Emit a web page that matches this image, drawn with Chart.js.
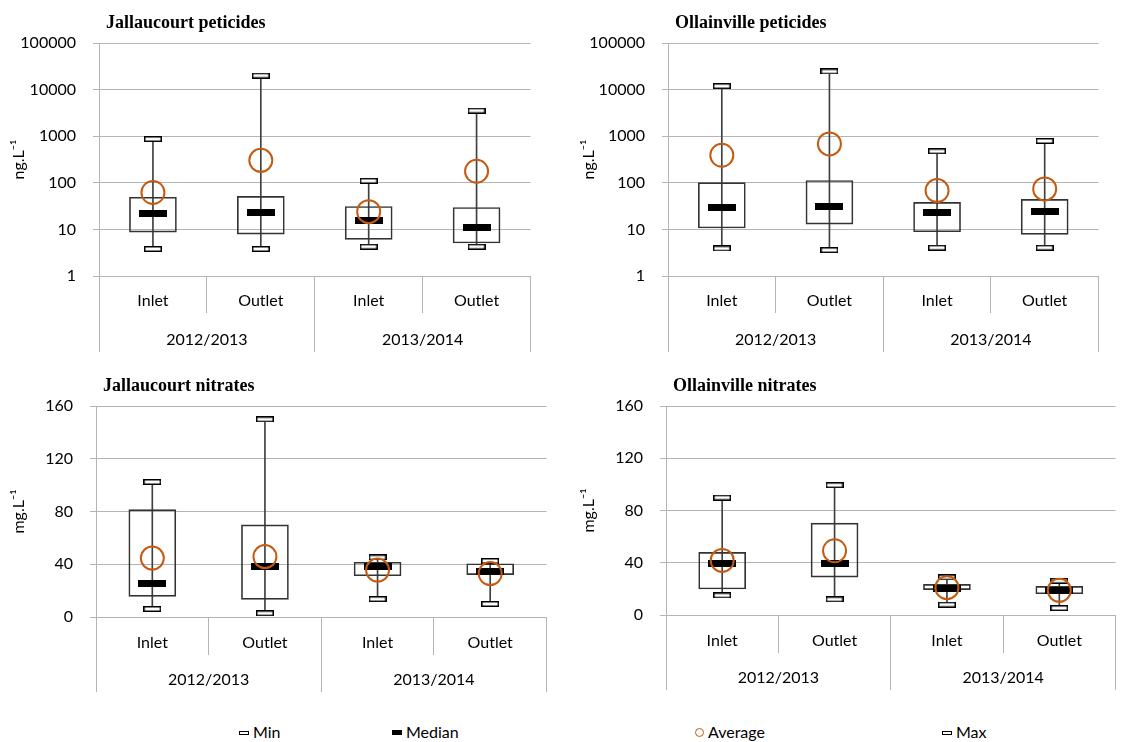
<!DOCTYPE html>
<html>
<head>
<meta charset="utf-8">
<script src="https://cdn.jsdelivr.net/npm/chart.js@4.4.1/dist/chart.umd.min.js"></script>
<style>
  body { margin: 0; background: #fff; }
  #page { position: relative; width: 1129px; height: 742px; overflow: hidden; font-family: Lato, "Open Sans", sans-serif; }
  .box { position: absolute; }
  .title { position: absolute; font-family: "Liberation Serif", serif; font-weight: bold; font-size: 18px; line-height: 22px; color: #000; white-space: nowrap; }
  .legend { position: absolute; top: 721px; height: 22px; line-height: 22px; font-size: 16px; color: #000; white-space: nowrap; }
  .mk { display: inline-block; vertical-align: middle; margin-right: 4px; position: relative; top: -1px; }
  .mk-minmax { width: 8px; height: 2px; border: 1px solid #000; background: #fff; }
  .mk-median { width: 10px; height: 5px; background: #000; }
  .mk-avg { width: 7px; height: 7px; border: 1.5px solid #C55A11; border-radius: 50%; }
</style>
</head>
<body>
<div id="page">
  <div class="box" style="left:0px;top:0px;width:544px;height:360px;"><canvas id="jp"></canvas></div>
  <div class="box" style="left:560px;top:0px;width:552px;height:360px;"><canvas id="op"></canvas></div>
  <div class="box" style="left:0px;top:370px;width:560px;height:330px;"><canvas id="jn"></canvas></div>
  <div class="box" style="left:560px;top:370px;width:569px;height:330px;"><canvas id="on"></canvas></div>

  <div class="title" style="left:106px;top:11px;">Jallaucourt peticides</div>
  <div class="title" style="left:675px;top:11px;">Ollainville peticides</div>
  <div class="title" style="left:103px;top:374px;">Jallaucourt nitrates</div>
  <div class="title" style="left:673px;top:374px;">Ollainville nitrates</div>

  <div class="legend" style="left:239px;"><span class="mk mk-minmax"></span>Min</div>
  <div class="legend" style="left:392px;"><span class="mk mk-median"></span>Median</div>
  <div class="legend" style="left:695px;"><span class="mk mk-avg"></span>Average</div>
  <div class="legend" style="left:942px;"><span class="mk mk-minmax"></span>Max</div>
</div>

<script>
// categories and tick labels
var categories = ["Inlet", "Outlet", "Inlet", "Outlet"];
var years = ["2012/2013", "2013/2014"];
var logTicks = [1, 10, 100, 1000, 10000, 100000];

// Jallaucourt peticides (ng/L)
var jpMin = [3.8, 3.8, 4.25, 4.25];
var jpQ1 = [8.75, 7.9, 6.1, 5.1];
var jpMedian = [21.6, 22.7, 15.5, 11];
var jpQ3 = [49, 51, 31, 29.5];
var jpMax = [870, 20000, 110, 3530];
var jpAverage = [62, 303, 24, 177];

// Ollainville peticides (ng/L)
var opMin = [3.9, 3.6, 4.05, 4.05];
var opQ1 = [10.7, 13, 8.9, 7.8];
var opMedian = [29, 30.5, 23.5, 24.6];
var opQ3 = [101, 112, 38, 44];
var opMax = [11900, 24500, 475, 790];
var opAverage = [390, 682, 68, 74];

// Jallaucourt nitrates (mg/L)
var jnMin = [6.1, 2.8, 13.6, 9.9];
var jnQ1 = [15.7, 13.4, 31.3, 32.1];
var jnMedian = [25.3, 38.2, 38.2, 34.6];
var jnQ3 = [81.4, 69.8, 41.5, 40.4];
var jnMax = [102.4, 149.9, 45.2, 42.5];
var jnAverage = [44.7, 45.8, 35.6, 32.9];

// Ollainville nitrates (mg/L)
var onMin = [15, 12, 7.9, 5.3];
var onQ1 = [19.9, 29, 19.4, 16.3];
var onMedian = [39.2, 39.7, 20.4, 19.1];
var onQ3 = [47.9, 70.3, 23.4, 21.9];
var onMax = [89.9, 99.4, 28.8, 26.2];
var onAverage = [41.8, 49.2, 20.9, 18.9];

var gridColor = "#b4b4b4";
var avgColor = "#C55A11";
var none = "rgba(0,0,0,0)";
var fontFamily = "Lato, 'Open Sans', sans-serif";

function markerCanvas(w, h, fill, stroke) {
    var c = document.createElement("canvas");
    c.width = w;
    c.height = h;
    var ctx = c.getContext("2d");
    ctx.fillStyle = fill;
    ctx.fillRect(0, 0, w, h);
    if (stroke) {
        ctx.strokeStyle = stroke;
        ctx.lineWidth = 1.5;
        ctx.strokeRect(0.75, 0.75, w - 1.5, h - 1.5);
    }
    return c;
}

var minMaxMark = markerCanvas(18, 6, "#fff", "#000");
var medianMark = markerCanvas(28, 7, "#000");

function pairs(a, b) {
    return a.map(function (v, i) {
        return [v, b[i]];
    });
}

function hideLast(n) {
    return function (ctx) {
        return ctx.index === n ? none : gridColor;
    };
}

function makeChart(id, box, s, yScale, yTitle) {
    var y = Object.assign(
        {
            grid: { color: gridColor, tickLength: 6 },
            border: { color: gridColor },
            title: {
                display: true,
                text: yTitle,
                color: "#000",
                font: { family: fontFamily, size: 16 },
                padding: { top: box.titlePad, bottom: 0 },
            },
            afterFit: function (sc) {
                sc.width = box.yWidth;
            },
        },
        yScale
    );

    new Chart(document.getElementById(id), {
        type: "bar",
        data: {
            labels: categories,
            datasets: [
                {
                    type: "line",
                    label: "Average",
                    data: s.average,
                    showLine: false,
                    pointStyle: "circle",
                    pointRadius: 11.5,
                    pointBorderWidth: 2,
                    pointBorderColor: avgColor,
                    pointBackgroundColor: none,
                    order: 1,
                },
                { type: "line", label: "Max", data: s.max, showLine: false, pointStyle: minMaxMark, order: 2 },
                { type: "line", label: "Min", data: s.min, showLine: false, pointStyle: minMaxMark, order: 3 },
                { type: "line", label: "Median", data: s.median, showLine: false, pointStyle: medianMark, order: 4 },
                {
                    label: "Box",
                    data: pairs(s.q1, s.q3),
                    backgroundColor: none,
                    borderColor: "#333",
                    borderWidth: 1,
                    borderSkipped: false,
                    barThickness: 47,
                    grouped: false,
                    order: 5,
                },
                {
                    label: "Range",
                    data: pairs(s.min, s.max),
                    backgroundColor: "#404040",
                    barThickness: 1,
                    grouped: false,
                    order: 6,
                },
            ],
        },
        options: {
            responsive: true,
            maintainAspectRatio: false,
            animation: false,
            layout: { padding: { left: 0, right: box.padRight, top: box.padTop, bottom: box.padBottom } },
            plugins: { legend: { display: false }, tooltip: { enabled: false } },
            scales: {
                x: {
                    offset: true,
                    weight: 0,
                    grid: { offset: true, drawOnChartArea: false, tickLength: box.tick1, color: hideLast(4) },
                    border: { color: gridColor },
                    ticks: { padding: -22, color: "#000", maxRotation: 0, autoSkip: false, font: { family: fontFamily, size: 16 } },
                    afterFit: function (sc) {
                        sc.height = box.tick1;
                    },
                },
                x2: {
                    type: "category",
                    labels: years,
                    position: "bottom",
                    offset: true,
                    weight: 1,
                    grid: { offset: true, drawOnChartArea: false, tickLength: box.tick2, color: hideLast(2) },
                    border: { display: false },
                    ticks: { padding: -22, color: "#000", maxRotation: 0, autoSkip: false, font: { family: fontFamily, size: 16 } },
                    afterFit: function (sc) {
                        sc.height = box.tick2;
                    },
                },
                y: y,
            },
        },
    });
}

var logAxis = {
    type: "logarithmic",
    min: 1,
    max: 100000,
    afterBuildTicks: function (sc) {
        sc.ticks = logTicks.map(function (v) {
            return { value: v };
        });
    },
    ticks: {
        color: "#000",
        padding: 17,
        font: { family: fontFamily, size: 16 },
        callback: function (v) {
            return String(v);
        },
    },
};

var linAxis = {
    type: "linear",
    min: 0,
    max: 160,
    ticks: { color: "#000", padding: 17, stepSize: 40, font: { family: fontFamily, size: 16 } },
};

makeChart("jp", { yWidth: 99, padRight: 2, padTop: 43, padBottom: 8, tick1: 37, tick2: 39, titlePad: 9 },
    { min: jpMin, q1: jpQ1, median: jpMedian, q3: jpQ3, max: jpMax, average: jpAverage }, logAxis, "ng.L\u207B\u00B9");
makeChart("op", { yWidth: 108, padRight: 2, padTop: 43, padBottom: 8, tick1: 37, tick2: 39, titlePad: 19 },
    { min: opMin, q1: opQ1, median: opMedian, q3: opQ3, max: opMax, average: opAverage }, logAxis, "ng.L\u207B\u00B9");
makeChart("jn", { yWidth: 96, padRight: 4, padTop: 36, padBottom: 8, tick1: 38, tick2: 37, titlePad: 9 },
    { min: jnMin, q1: jnQ1, median: jnMedian, q3: jnQ3, max: jnMax, average: jnAverage }, linAxis, "mg.L\u207B\u00B9");
makeChart("on", { yWidth: 106, padRight: 0, padTop: 36, padBottom: 10, tick1: 38, tick2: 37, titlePad: 19 },
    { min: onMin, q1: onQ1, median: onMedian, q3: onQ3, max: onMax, average: onAverage }, linAxis, "mg.L\u207B\u00B9");
</script>
</body>
</html>
